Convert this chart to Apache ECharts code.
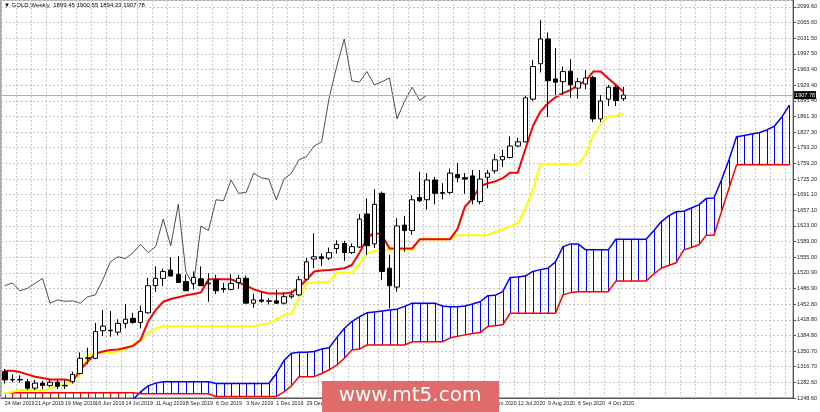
<!DOCTYPE html>
<html><head><meta charset="utf-8">
<script src="https://cdn.jsdelivr.net/npm/echarts@6/dist/echarts.min.js"></script>
<style>html,body{margin:0;padding:0;background:#fff}#c{width:820px;height:412px}</style>
</head><body><div id="c"></div>
<script>
const startDate = '2019-03-24';
const futureWeeks = 22;
const opens = [1306,1288,1289,1284,1270,1281,1276,1283,1275,1284,1302,1335,1335,1395,1396,1392,1411,1422,1413,1434,1493,1509,1527,1518,1502,1498,1508,1497,1507,1485,1485,1500,1509,1455,1462,1459,1460,1455,1469,1473,1507,1551,1556,1553,1574,1585,1565,1577,1649,1584,1694,1531,1490,1625,1613,1685,1680,1723,1694,1696,1735,1728,1732,1676,1729,1743,1767,1772,1797,1806,1899,1976,2030,1943,1937,1960,1923,1932,1946,1856,1899,1925,1900];
const highs = [1312,1300,1298,1290,1288,1286,1290,1290,1288,1306,1348,1358,1412,1440,1438,1420,1453,1434,1450,1510,1535,1530,1555,1557,1517,1524,1535,1520,1517,1499,1518,1516,1515,1476,1478,1466,1484,1479,1482,1514,1553,1607,1563,1576,1592,1591,1585,1649,1683,1703,1698,1560,1640,1645,1690,1741,1738,1730,1716,1748,1760,1738,1745,1745,1745,1779,1789,1818,1815,1906,1984,2071,2044,2010,1970,1986,1945,1962,1950,1908,1930,1930,1926];
const lows = [1280,1283,1282,1266,1266,1268,1272,1268,1268,1280,1300,1322,1333,1383,1382,1385,1400,1410,1400,1432,1480,1492,1515,1505,1484,1485,1492,1458,1475,1478,1483,1487,1455,1445,1456,1452,1453,1452,1465,1470,1505,1531,1536,1549,1563,1547,1562,1575,1560,1575,1505,1444,1480,1567,1604,1675,1659,1670,1681,1692,1718,1693,1670,1670,1705,1737,1751,1770,1795,1805,1895,1957,1860,1908,1908,1902,1900,1920,1849,1849,1884,1884,1895];
const closes = [1288,1289,1288,1270,1281,1276,1283,1274,1276,1300,1335,1336,1393,1405,1395,1411,1420,1413,1437,1493,1509,1524,1514,1500,1482,1511,1493,1499,1482,1487,1498,1509,1455,1462,1459,1460,1455,1469,1473,1506,1545,1556,1552,1565,1583,1565,1578,1638,1580,1670,1524,1493,1623,1613,1680,1678,1723,1694,1696,1738,1728,1725,1680,1725,1738,1767,1774,1797,1806,1902,1970,2030,1939,1936,1959,1930,1937,1945,1856,1895,1925,1896,1908];
const tenkan = [1308,1308,1305,1300,1295,1292,1289,1289,1289,1285,1310,1328,1345,1350,1353,1354,1358,1362,1375,1415,1440,1458,1464,1468,1472,1475,1478,1507,1507,1507,1507,1500,1493,1485,1480,1476,1476,1476,1478,1490,1506,1524,1526,1527,1529,1531,1538,1564,1596,1609,1603,1574,1574,1574,1574,1594,1594,1594,1594,1594,1616,1665,1683,1709,1716,1720,1727,1739,1739,1790,1840,1872,1890,1903,1912,1919,1930,1939,1959,1959,1944,1930,1915];
const kijun = [1259,1262,1266,1266,1266,1266,1269,1275,1278,1284,1302,1342,1345,1347,1347,1350,1355,1365,1375,1390,1400,1405,1405,1405,1405,1405,1405,1405,1405,1405,1405,1405,1405,1405,1408,1411,1420,1429,1433,1466,1498,1500,1500,1502,1521,1521,1521,1540,1564,1568,1571,1571,1571,1571,1571,1594,1594,1594,1594,1594,1603,1603,1603,1603,1603,1610,1616,1622,1630,1660,1701,1758,1758,1758,1758,1758,1758,1778,1821,1845,1862,1862,1868];
const spanA = [1235,1235,1235,1235,1235,1235,1235,1235,1235,1235,1235,1235,1235,1235,1235,1235,1235,1245,1262,1275,1281,1284,1284,1284,1284,1284,1284,1284,1280,1280,1280,1280,1280,1280,1280,1280,1302,1330,1346,1348,1348,1350,1355,1358,1380,1400,1415,1425,1434,1436,1438,1440,1442,1448,1455,1455,1455,1455,1449,1447,1447,1449,1453,1458,1471,1472,1480,1511,1512,1514,1524,1528,1531,1545,1578,1584,1584,1571,1571,1571,1571,1594,1594,1594,1594,1594,1612,1632,1645,1654,1655,1662,1669,1683,1684,1723,1767,1817,1820,1823,1826,1832,1840,1860,1886];
const spanB = [1260,1260,1260,1260,1260,1260,1260,1260,1260,1260,1260,1260,1260,1260,1260,1260,1260,1260,1258,1258,1258,1258,1258,1258,1258,1258,1258,1258,1252,1252,1252,1252,1252,1252,1252,1252,1252,1262,1275,1295,1295,1295,1302,1310,1320,1335,1353,1355,1364,1364,1364,1364,1364,1364,1371,1371,1371,1371,1371,1379,1383,1386,1389,1391,1404,1406,1408,1433,1433,1433,1433,1433,1433,1433,1473,1478,1480,1480,1480,1480,1480,1503,1503,1503,1503,1503,1518,1531,1537,1543,1571,1576,1582,1603,1603,1654,1705,1756,1756,1756,1756,1756,1756,1756,1756];
const chikouShift = 26;
const lastPrice = 1907.78;
const yMin = 1248.6, yMax = 2114.8, yStep = 34.04;

const months=['Jan','Feb','Mar','Apr','May','Jun','Jul','Aug','Sep','Oct','Nov','Dec'];
const cats=[]; const d0=new Date(startDate+'T00:00:00Z');
for(let i=0;i<closes.length+futureWeeks;i++){const d=new Date(d0.getTime()+i*7*86400000);cats.push(d.getUTCDate()+' '+months[d.getUTCMonth()]+' '+d.getUTCFullYear());}
const ohlc=closes.map((c,i)=>[opens[i],c,lows[i],highs[i]]);
const chikou=cats.map((_,i)=>i+chikouShift<closes.length?closes[i+chikouShift]:null);
const hatch=spanA.map((a,i)=>[i,a,spanB[i]]);
const showLab=(i)=>i%4===0&&i<closes.length;

const chart=echarts.init(document.getElementById('c'));
chart.setOption({
  animation:false,
  grid:{left:1,right:20,top:0,bottom:14,show:true,borderColor:'#555',borderWidth:1},
  xAxis:{type:'category',data:cats,boundaryGap:true,
    axisLine:{lineStyle:{color:'#555'}},
    axisTick:{interval:showLab,length:3,lineStyle:{color:'#555'}},
    axisLabel:{interval:showLab,hideOverlap:false,showMinLabel:true,fontSize:5.3,color:'#222',fontFamily:'Liberation Sans',align:'left',margin:3},
    splitLine:{show:true,interval:1,lineStyle:{color:'#c8c8c8',type:[2,2]}}},
  yAxis:{type:'value',position:'right',min:yMin,max:yMax,interval:yStep,scale:true,
    axisLine:{show:true,lineStyle:{color:'#555'}},axisTick:{show:true,length:3,lineStyle:{color:'#555'}},
    axisLabel:{fontSize:5.5,color:'#222',fontFamily:'Liberation Sans',margin:4,formatter:v=>v.toFixed(1)+'0',showMaxLabel:false},
    splitLine:{lineStyle:{color:'#c8c8c8',type:[2,2]}}},
  series:[
    {type:'custom',clip:true,data:hatch,z:1,renderItem:(params,api)=>{
      const i=api.value(0),a=api.value(1),b=api.value(2);
      const p1=api.coord([i,a]),p2=api.coord([i,b]);
      const x=Math.round(p1[0])+0.5;
      return {type:'line',shape:{x1:x,y1:p1[1],x2:x,y2:p2[1]},style:{stroke:a>=b?'#0000ff':'#ff0000',lineWidth:1}};
    }},
    {type:'line',data:spanA,symbol:'none',lineStyle:{color:'#0000ff',width:1.5},z:2},
    {type:'line',data:spanB,symbol:'none',lineStyle:{color:'#ff0000',width:1.5},z:2},
    {type:'line',data:chikou,symbol:'none',lineStyle:{color:'#222',width:0.8},z:3},
    {type:'line',data:kijun,symbol:'none',lineStyle:{color:'#ffff00',width:2},z:3},
    {type:'line',data:tenkan,symbol:'none',lineStyle:{color:'#ff0000',width:2},z:4},
    {type:'candlestick',data:ohlc,barWidth:5,z:5,
      itemStyle:{color:'#ffffff',color0:'#000000',borderColor:'#000000',borderColor0:'#000000',borderWidth:1},
      markLine:{symbol:'none',silent:true,data:[{yAxis:lastPrice}],lineStyle:{color:'#b0b0b0',type:'solid',width:1},
        label:{position:'end',distance:1,formatter:lastPrice.toFixed(2),backgroundColor:'#000',color:'#fff',fontSize:5.5,padding:[1,1],fontFamily:'Liberation Sans'}}}
  ],
  graphic:[
    {type:'text',left:4,top:2,style:{text:'▼ GOLD,Weekly  1899.45 1900.55 1894.23 1907.78',fontSize:6,fill:'#000',fontFamily:'Liberation Sans'}},
    {type:'rect',shape:{x:322,y:381,width:177,height:31},style:{fill:'#e06b6b'},z:100},
    {type:'text',x:410,y:396,style:{text:'www.mt5.com',fontSize:20,fill:'#fff',align:'center',verticalAlign:'middle',fontFamily:'DejaVu Sans'},z:101}
  ]
});
</script></body></html>
